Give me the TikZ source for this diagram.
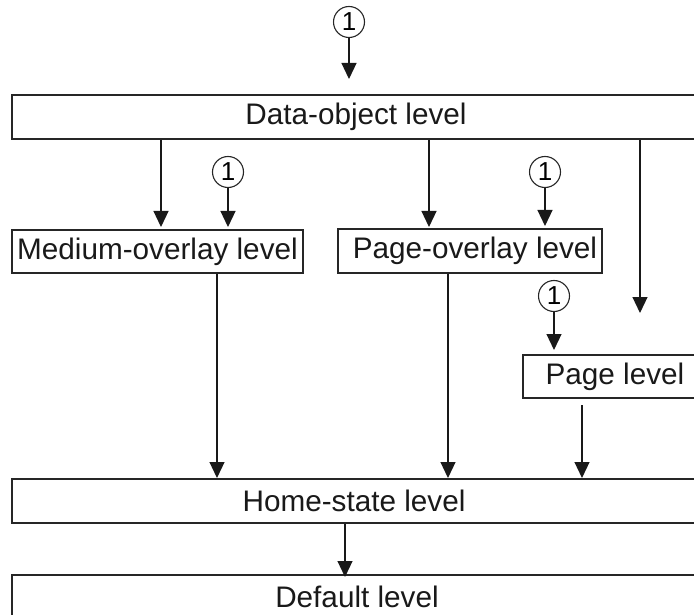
\documentclass[tikz,border=0pt]{standalone}
\usepackage{fontspec}
\setmainfont{Liberation Sans}
\usetikzlibrary{arrows.meta}
\tikzset{
  lvlbox/.style={draw=black!85, line width=1.3pt, rectangle, inner sep=0pt,
    font=\fontsize{29.7}{34}\selectfont, text=black!90},
  marker/.style={draw=black!85, line width=1.1pt, circle, inner sep=0pt,
    minimum size=31pt, font=\fontsize{26}{30}\selectfont},
  arr/.style={draw=black!90, line width=1.2pt, -{Triangle[length=16pt,width=15pt]}}
}
\begin{document}
\begin{tikzpicture}[x=1pt,y=-1pt]
\useasboundingbox (0,0) rectangle (694,615);
\clip (0,0) rectangle (694,615);
% level boxes
\node[lvlbox, minimum width=688pt, minimum height=44pt] (data) at (356,117) {Data-object level};
\node[lvlbox, minimum width=291pt, minimum height=43pt] (med) at (157.5,251.5) {Medium-overlay level};
\node[lvlbox, minimum width=264pt, minimum height=44pt] (pov) at (470,251) {\hspace*{10pt}Page-overlay level};
\node[lvlbox, minimum width=184pt, minimum height=43pt] (page) at (615,376.5) {Page level};
\node[lvlbox, minimum width=684pt, minimum height=44pt] (home) at (354,501) {Home-state level};
\node[lvlbox, minimum width=690pt, minimum height=44pt] (def) at (357,597) {Default level};
% circled markers
\node[marker] (c0) at (349,22) {1};
\node[marker] (c1) at (228,172) {1};
\node[marker] (c2) at (545,172) {1};
\node[marker] (c3) at (554,296) {1};
% free ends
\coordinate (t0) at (349,79);
\coordinate (t1) at (228,227);
\coordinate (t2) at (545,226);
\coordinate (t3) at (554,350);
\coordinate (a1) at (161,227);
\coordinate (a2) at (429,227);
\coordinate (a3) at (640,313);
\coordinate (h1) at (217,478);
\coordinate (h2) at (448,478);
\coordinate (s3) at (582,405);
\coordinate (h3) at (582,478);
\coordinate (d1) at (345,577);
% connectors
\draw[arr] (c0.south) -- (t0);
\draw[arr] (c1.south) -- (t1);
\draw[arr] (c2.south) -- (t2);
\draw[arr] (c3.south) -- (t3);
\draw[arr] (data.south -| a1) -- (a1);
\draw[arr] (data.south -| a2) -- (a2);
\draw[arr] (data.south -| a3) -- (a3);
\draw[arr] (med.south -| h1) -- (h1);
\draw[arr] (pov.south -| h2) -- (h2);
\draw[arr] (s3) -- (h3);
\draw[arr] (home.south -| d1) -- (d1);
\end{tikzpicture}
\end{document}
